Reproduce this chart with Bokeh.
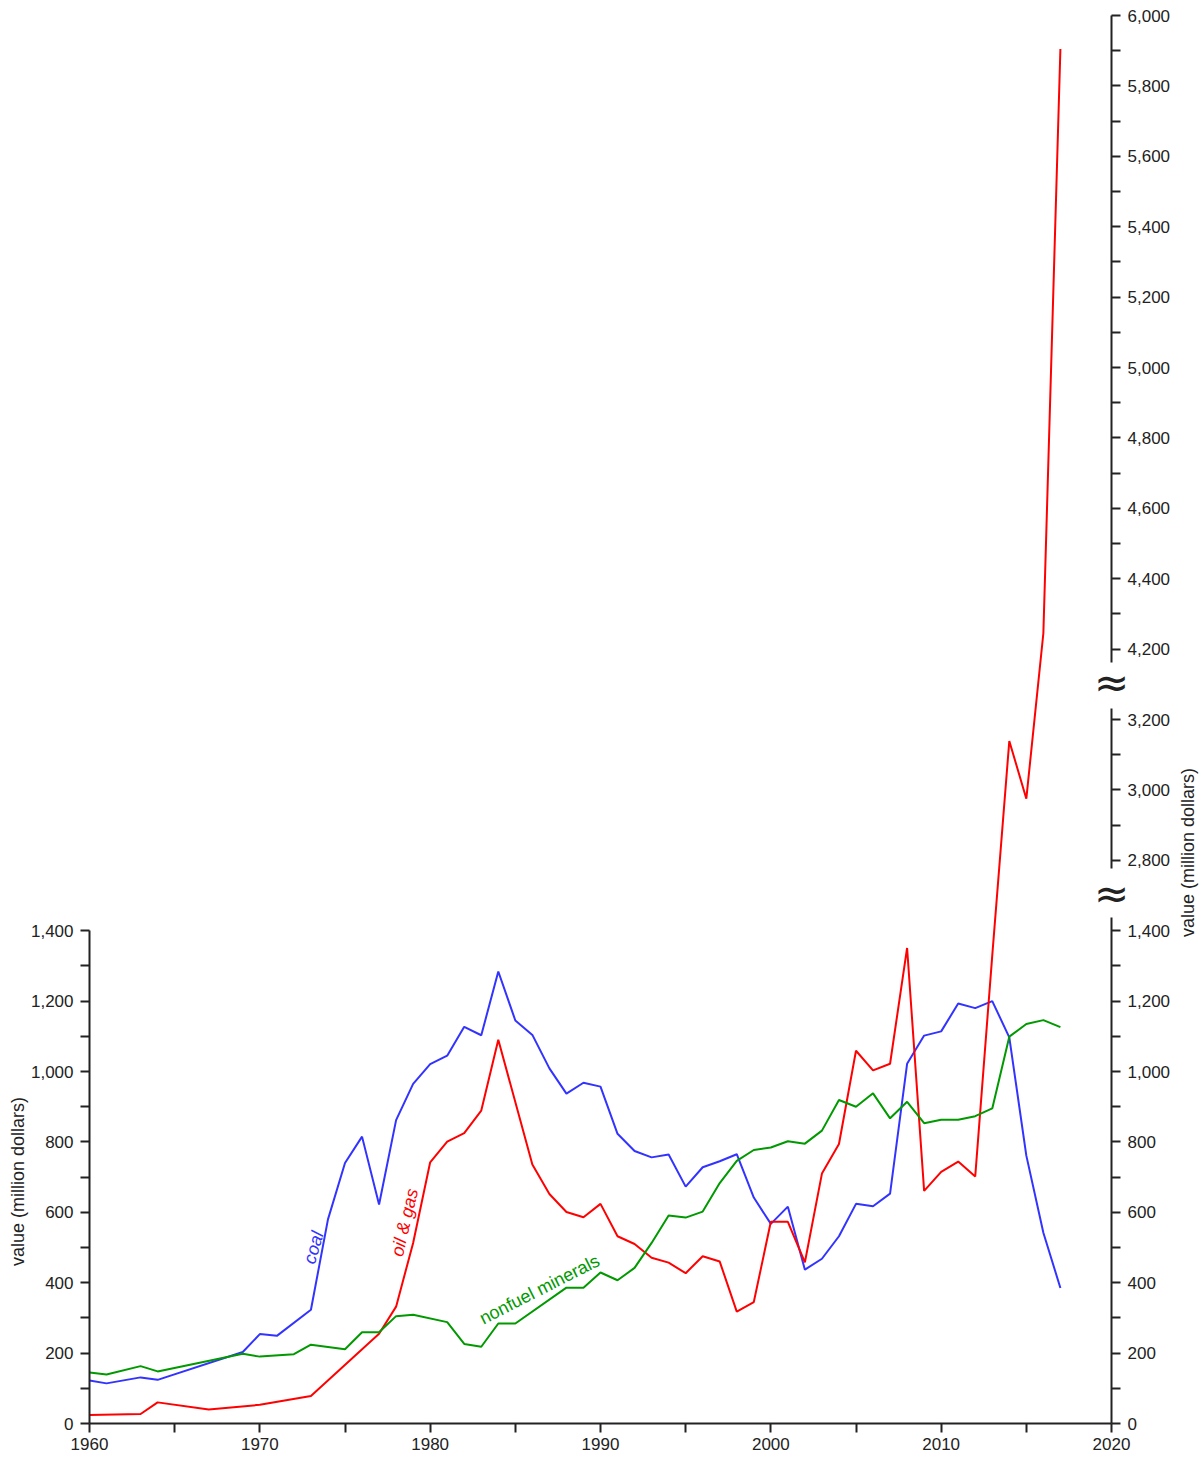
import math

from bokeh.core.properties import value
from bokeh.embed import file_html
from bokeh.models import CustomJSTickFormatter, FixedTicker, LinearAxis, NumeralTickFormatter, Range1d
from bokeh.plotting import figure
from bokeh.resources import INLINE

# Annual production value, million dollars
coal_years = [1960, 1961, 1963, 1964, 1969, 1970, 1971, 1973, 1974, 1975, 1976, 1977,
              1978, 1979, 1980, 1981, 1982, 1983, 1984, 1985, 1986, 1987, 1988, 1989,
              1990, 1991, 1992, 1993, 1994, 1995, 1996, 1997, 1998, 1999, 2000, 2001,
              2002, 2003, 2004, 2005, 2006, 2007, 2008, 2009, 2010, 2011, 2012, 2013,
              2014, 2015, 2016, 2017]
coal_values = [122, 114, 131, 124, 203, 254, 249, 323, 580, 740, 815, 622,
               862, 965, 1021, 1045, 1127, 1103, 1284, 1145, 1104, 1009, 937, 968,
               957, 823, 774, 756, 764, 673, 728, 745, 765, 642, 567, 616,
               437, 468, 532, 624, 617, 653, 1022, 1102, 1114, 1193, 1180, 1200,
               1097, 761, 542, 385]

oil_gas_years = [1960, 1963, 1964, 1967, 1970, 1973, 1977, 1978, 1979, 1980, 1981, 1982,
                 1983, 1984, 1986, 1987, 1988, 1989, 1990, 1991, 1992, 1993, 1994, 1995,
                 1996, 1997, 1998, 1999, 2000, 2001, 2002, 2003, 2004, 2005, 2006, 2007,
                 2008, 2009, 2010, 2011, 2012, 2013, 2014, 2015, 2016, 2017]
oil_gas_values = [24, 27, 60, 40, 53, 78, 255, 332, 513, 742, 801, 825,
                  889, 1090, 736, 652, 601, 586, 624, 532, 510, 471, 457, 427,
                  475, 460, 318, 345, 573, 573, 458, 710, 794, 1059, 1003, 1022,
                  1351, 661, 715, 744, 702, 1330, 3139, 2975, 4245, 5905]

nonfuel_years = [1960, 1961, 1963, 1964, 1969, 1970, 1972, 1973, 1975, 1976, 1977, 1978,
                 1979, 1981, 1982, 1983, 1984, 1985, 1988, 1989, 1990, 1991, 1992, 1993,
                 1994, 1995, 1996, 1997, 1998, 1999, 2000, 2001, 2002, 2003, 2004, 2005,
                 2006, 2007, 2008, 2009, 2010, 2011, 2012, 2013, 2014, 2015, 2016, 2017]
nonfuel_values = [145, 139, 163, 148, 198, 190, 197, 224, 211, 259, 259, 305,
                  309, 288, 226, 218, 284, 284, 386, 386, 429, 407, 442, 513,
                  591, 585, 602, 683, 746, 777, 784, 802, 795, 832, 919, 900,
                  938, 867, 914, 853, 863, 863, 873, 895, 1099, 1135, 1146, 1126]

x_ticks = [1960, 1970, 1980, 1990, 2000, 2010, 2020]
x_minor_ticks = [1965, 1975, 1985, 1995, 2005, 2015]
low_ticks = [0, 200, 400, 600, 800, 1000, 1200, 1400]
low_minor_ticks = [100, 300, 500, 700, 900, 1100, 1300]
mid_ticks = [2800, 3000, 3200]
mid_minor_ticks = [2900, 3100]
high_ticks = list(range(4200, 6001, 200))
high_minor_ticks = list(range(4300, 5901, 200))

COAL = "#3333ff"
OIL = "#ff0000"
NONFUEL = "#009900"
INK = "#222222"
FONT = "Liberation Sans"

X0, X1 = 1960, 2020


def to_axis(v):
    """Map a value onto the broken vertical scale (two skipped bands of the right axis)."""
    if v <= 2100:
        return v
    if v <= 3700:
        return v - 1200
    return v - 2000


# The frame fills the whole canvas; axes are pinned at fixed data locations.
W, H = 1204, 1463
left_px, right_px, top_px, bottom_px = 89, 1111, 15, 1423
ppx = (right_px - left_px) / (X1 - X0)
ppy = (bottom_px - top_px) / 4000.0
x_range = Range1d(X0 - left_px / ppx, X1 + (W - right_px) / ppx)
y_range = Range1d(-(H - bottom_px) / ppy, 4000 + top_px / ppy)

p = figure(width=W, height=H, x_range=x_range, y_range=y_range,
           output_backend="svg", toolbar_location=None,
           min_border_left=0, min_border_right=0, min_border_top=0, min_border_bottom=0)
p.title.visible = False
p.outline_line_color = None
p.xgrid.visible = False
p.ygrid.visible = False
p.background_fill_color = "white"
p.border_fill_color = "white"


def style_axis(ax):
    ax.axis_line_color = INK
    ax.axis_line_width = 2
    ax.major_tick_line_color = INK
    ax.minor_tick_line_color = INK
    ax.major_tick_line_width = 2
    ax.minor_tick_line_width = 2
    ax.major_tick_in = 0
    ax.minor_tick_in = 0
    ax.major_tick_out = 9
    ax.minor_tick_out = 9
    ax.major_label_text_font = FONT
    ax.major_label_text_font_size = "17px"
    ax.major_label_text_color = INK
    ax.major_label_standoff = 7


xa = p.xaxis[0]
style_axis(xa)
xa.fixed_location = 0
xa.bounds = (X0, X1)
xa.ticker = FixedTicker(ticks=x_ticks, minor_ticks=x_minor_ticks)
xa.major_label_standoff = 5

ya = p.yaxis[0]
style_axis(ya)
ya.fixed_location = X0
ya.bounds = (0, 1400)
ya.ticker = FixedTicker(ticks=low_ticks, minor_ticks=low_minor_ticks)
ya.formatter = NumeralTickFormatter(format="0,0")

break_formatter = CustomJSTickFormatter(code="""
    let v = tick;
    if (tick > 2100) { v = tick + 2000; } else if (tick > 1500) { v = tick + 1200; }
    return String(Math.round(v)).replace(/\\B(?=(\\d{3})+(?!\\d))/g, ",");
""")

# Right-hand scale in three pieces, separated by break marks
for ticks, minor, bounds in [
    (low_ticks, low_minor_ticks, (0, 1437)),
    (mid_ticks, mid_minor_ticks, (to_axis(2777), to_axis(3231))),
    (high_ticks, high_minor_ticks, (to_axis(4162), to_axis(6000))),
]:
    ax = LinearAxis(fixed_location=X1, bounds=bounds,
                    ticker=FixedTicker(ticks=[to_axis(v) for v in ticks],
                                       minor_ticks=[to_axis(v) for v in minor]),
                    formatter=break_formatter)
    style_axis(ax)
    p.add_layout(ax, "right")

p.line(coal_years, [to_axis(v) for v in coal_values], line_color=COAL, line_width=2)
p.line(oil_gas_years, [to_axis(v) for v in oil_gas_values], line_color=OIL, line_width=2)
p.line(nonfuel_years, [to_axis(v) for v in nonfuel_values], line_color=NONFUEL, line_width=2)

# Series names written along their lines
p.text(x=[1973.15], y=[500], text=["coal"], angle=math.radians(74),
       text_font=value(FONT), text_font_size="18px", text_font_style="italic",
       text_color=COAL, text_align="center", text_baseline="middle")
p.text(x=[1978.5], y=[571], text=["oil & gas"], angle=math.radians(77),
       text_font=value(FONT), text_font_size="18px", text_font_style="italic",
       text_color=OIL, text_align="center", text_baseline="middle")
p.text(x=[1986.42], y=[381], text=["nonfuel minerals"], angle=math.radians(27),
       text_font=value(FONT), text_font_size="18px",
       text_color=NONFUEL, text_align="center", text_baseline="middle")

# Axis titles
p.text(x=[X0 - (left_px - 17) / ppx, X1 + (1187 - right_px) / ppx],
       y=[(bottom_px - 1181) / ppy, (bottom_px - 852) / ppy],
       text=["value (million dollars)", "value (million dollars)"], angle=math.pi / 2,
       text_font=value(FONT), text_font_size="18px", text_color=INK,
       text_align="center", text_baseline="middle")

# Break marks between the pieces of the right-hand scale
p.text(x=[X1, X1], y=[(bottom_px - 893) / ppy, (bottom_px - 682) / ppy],
       text=["\u2248", "\u2248"], text_font=value("DejaVu Sans"), text_font_size="42px",
       text_color=INK, text_align="center", text_baseline="middle")

open("out.html", "w").write(file_html(p, INLINE))
